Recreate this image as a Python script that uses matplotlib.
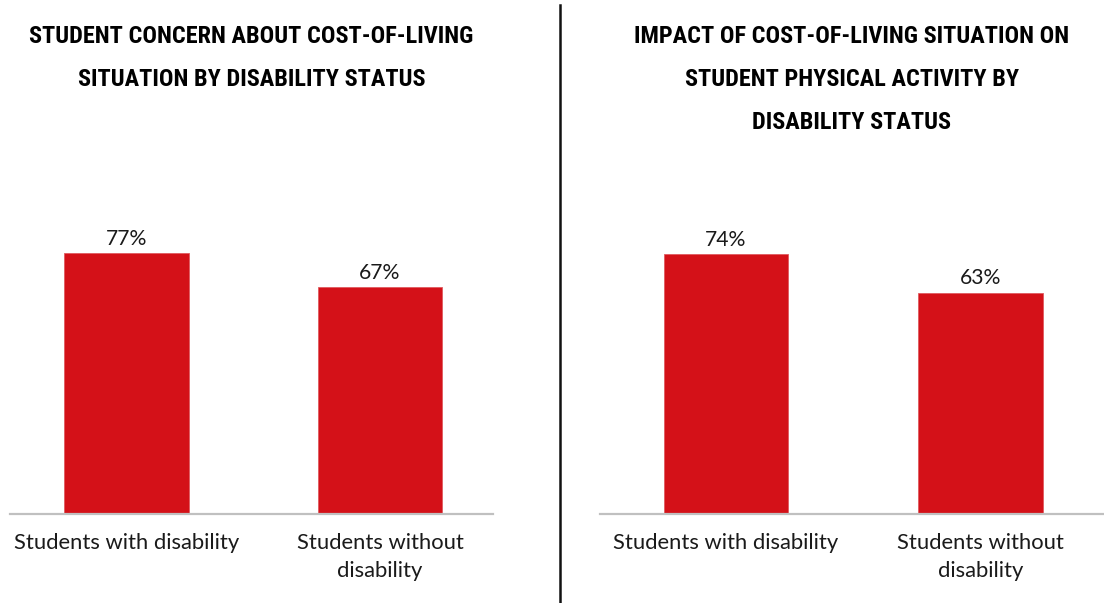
import matplotlib
matplotlib.use("Agg")
import matplotlib.pyplot as plt
from matplotlib import font_manager
from matplotlib.lines import Line2D

# ---- data ----
categories = ["Students with disability", "Students without\ndisability"]
concern_values = [77, 67]
activity_values = [74, 63]
titles = [
    "STUDENT CONCERN ABOUT COST-OF-LIVING\nSITUATION BY DISABILITY STATUS",
    "IMPACT OF COST-OF-LIVING SITUATION ON\nSTUDENT PHYSICAL ACTIVITY BY\nDISABILITY STATUS",
]

BAR_RED = "#D41118"
TEXT = "#1a1a1a"
AXIS_GREY = "#c0c0c0"

available = {f.name for f in font_manager.fontManager.ttflist}
title_family = next(
    (f for f in ["Liberation Sans Narrow", "DejaVu Sans Condensed", "Roboto Condensed", "Liberation Sans"]
     if f in available),
    "DejaVu Sans",
)
body_family = "Lato" if "Lato" in available else "DejaVu Sans"

fig = plt.figure(figsize=(11.04, 6.03), dpi=100)
fig.patch.set_facecolor("white")

W, H = 1104, 603
baseline_px = 514
axes_h_px = 364
panels = [
    # (left px, width px, values, ylim top, xlim)
    (10, 483, concern_values, 107.5, (-0.46, 1.446)),
    (600, 504, activity_values, 103.6, (-0.495, 1.485)),
]

for (left, width, vals, ytop, xlim), title in zip(panels, titles):
    ax = fig.add_axes([left / W, (H - baseline_px) / H, width / W, axes_h_px / H])
    bars = ax.bar(range(len(vals)), vals, width=0.49, color=BAR_RED,
                  edgecolor="#e05a5f", linewidth=0.6)
    ax.set_ylim(0, ytop)
    ax.set_xlim(*xlim)
    for s in ["top", "right", "left"]:
        ax.spines[s].set_visible(False)
    ax.spines["bottom"].set_color(AXIS_GREY)
    ax.spines["bottom"].set_linewidth(1.6)
    ax.set_yticks([])
    ax.set_xticks(range(len(categories)))
    ax.set_xticklabels(categories, fontsize=15.8, family=body_family,
                       color=TEXT, linespacing=1.5)
    ax.tick_params(axis="x", length=0, pad=14)
    ax.bar_label(bars, labels=[f"{v}%" for v in vals], padding=3,
                 fontsize=15.2, family=body_family, color=TEXT)
    ax.patch.set_alpha(0)

    cx = (left + width / 2) / W
    fig.text(cx, 1 - 25 / H, title, ha="center", va="top",
             fontsize=17.5, fontweight="bold", family=title_family,
             color="#000000", linespacing=2.1)

# vertical divider between the two panels
fig.add_artist(Line2D([560 / W, 560 / W], [0, 1 - 5 / H], transform=fig.transFigure,
                      color="#111111", linewidth=1.8))

fig.savefig("out.png", dpi=100, facecolor="white")
